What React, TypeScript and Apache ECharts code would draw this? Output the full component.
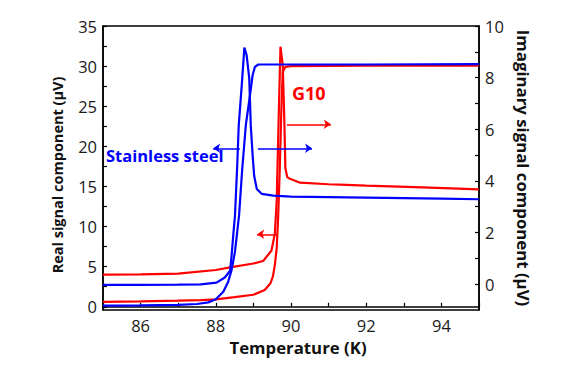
import React, { useEffect, useRef } from "react";
import * as echarts from "echarts";

// Temperature axis ticks / labels
const xTicks = [85, 86, 87, 88, 89, 90, 91, 92, 93, 94, 95];
const xLabels = [86, 88, 90, 92, 94];
const leftTicks = [0, 2.5, 5, 7.5, 10, 12.5, 15, 17.5, 20, 22.5, 25, 27.5, 30, 32.5, 35];
const leftLabels = [0, 5, 10, 15, 20, 25, 30, 35];
const rightTicks = [0, 1, 2, 3, 4, 5, 6, 7, 8, 9, 10];
const rightLabels = [0, 2, 4, 6, 8, 10];

// Stainless steel – real component (left axis)
const ssRealT = [85, 86, 87, 87.5, 87.8, 88.0, 88.2, 88.33, 88.42, 88.51, 88.57, 88.62, 88.7, 88.8, 88.91, 88.98, 89.04, 89.13, 89.5, 90, 92, 95];
const ssRealV = [0.15, 0.18, 0.25, 0.35, 0.55, 0.95, 1.88, 3.13, 4.59, 6.87, 9.36, 11.45, 17, 22.7, 26.4, 28.9, 29.9, 30.2, 30.2, 30.2, 30.2, 30.25];

// Stainless steel – imaginary component (right axis)
const ssImagT = [85, 86, 87, 87.6, 88.02, 88.24, 88.38, 88.42, 88.47, 88.51, 88.57, 88.61, 88.69, 88.76, 88.82, 88.89, 88.93, 88.98, 89.02, 89.09, 89.22, 89.53, 90, 92, 94, 95];
const ssImagV = [-0.03, -0.03, -0.02, -0.01, 0.06, 0.26, 0.52, 1.1, 2.0, 2.65, 4.6, 6.15, 7.7, 9.16, 8.87, 7.97, 6.15, 4.99, 4.2, 3.69, 3.5, 3.43, 3.39, 3.35, 3.31, 3.29];

// G10 – real component (left axis)
const g10RealT = [85, 86, 87, 87.6, 88, 88.5, 89, 89.3, 89.45, 89.52, 89.57, 89.62, 89.66, 89.7, 89.74, 89.78, 89.85, 90, 92, 95];
const g10RealV = [0.62, 0.68, 0.76, 0.83, 0.93, 1.2, 1.5, 2.1, 2.9, 3.8, 5.2, 7.3, 11.4, 17, 24, 29.3, 29.9, 30.0, 30.05, 30.05];

// G10 – imaginary component (right axis)
const g10ImagT = [85, 86, 87, 88, 88.38, 89, 89.26, 89.48, 89.57, 89.62, 89.67, 89.72, 89.78, 89.82, 89.85, 89.9, 89.97, 90.24, 91, 91.47, 92, 93.5, 95];
const g10ImagV = [0.37, 0.38, 0.41, 0.55, 0.65, 0.8, 0.9, 1.3, 1.95, 3.24, 6.3, 9.2, 8.5, 6.5, 4.5, 4.15, 4.08, 3.93, 3.87, 3.85, 3.82, 3.75, 3.67];

const BLUE = "#0000ff";
const RED = "#ff0000";
const FONT = "Open Sans";

const zip = (a: number[], b: number[]) => a.map((t, i) => [t, b[i]]);

export default function App() {
  const ref = useRef<HTMLDivElement>(null);
  useEffect(() => {
    if (!ref.current) return;
    const chart = echarts.init(ref.current, undefined, { renderer: "svg" });
    const axisCommon = {
      axisLine: { show: true, lineStyle: { color: "#000", width: 1.5 } },
      axisTick: { show: true, inside: true, length: 4, lineStyle: { color: "#000", width: 1.2 } },
      splitLine: { show: false },
    };
    const labelStyle = { color: "#1a1a1a", fontSize: 16.5, fontFamily: FONT };
    const nameStyle = { color: "#111", fontSize: 16.8, fontWeight: "bold" as const, fontFamily: FONT };
    chart.setOption({
      animation: false,
      backgroundColor: "#fff",
      grid: { left: 103, right: 91, top: 26, bottom: 65, show: true, borderColor: "#000", borderWidth: 1.5 },
      xAxis: {
        type: "value",
        min: 85,
        max: 95,
        ...axisCommon,
        axisTick: { ...axisCommon.axisTick, customValues: xTicks },
        axisLabel: { ...labelStyle, margin: 7, customValues: xLabels },
        name: "Temperature (K)",
        nameLocation: "middle",
        nameGap: 28,
        nameTextStyle: { ...nameStyle, padding: [0, 0, 0, 14] },
      },
      yAxis: [
        {
          type: "value",
          position: "left",
          min: -0.4,
          max: 35,
          ...axisCommon,
          axisTick: { ...axisCommon.axisTick, customValues: leftTicks },
          axisLabel: { ...labelStyle, margin: 6, customValues: leftLabels },
          name: "Real signal component (\u03bcV)",
          nameLocation: "middle",
          nameGap: 38,
          nameRotate: 90,
          nameTextStyle: { ...nameStyle, fontSize: 14.5, padding: [0, 14, 0, 0] },
        },
        {
          type: "value",
          position: "right",
          min: -1,
          max: 10,
          ...axisCommon,
          axisTick: { ...axisCommon.axisTick, customValues: rightTicks },
          axisLabel: { ...labelStyle, margin: 6, customValues: rightLabels },
          name: "Imaginary signal component (\u03bcV)",
          nameLocation: "middle",
          nameGap: 35,
          nameRotate: -90,
          nameTextStyle: nameStyle,
        },
      ],
      series: [
        {
          type: "line",
          name: "G10 real",
          yAxisIndex: 0,
          data: zip(g10RealT, g10RealV),
          showSymbol: false,
          lineStyle: { color: RED, width: 2.2 },
          itemStyle: { color: RED },
          markLine: {
            silent: true,
            symbol: ["none", "arrow"],
            symbolSize: [7, 7],
            label: { show: false },
            lineStyle: { color: RED, width: 1.5, type: "solid" },
            data: [
              [{ coord: [89.89, 22.75] }, { coord: [91.06, 22.75] }],
              [{ coord: [89.63, 9.04] }, { coord: [89.1, 9.04] }],
            ],
          },
        },
        {
          type: "line",
          name: "G10 imag",
          yAxisIndex: 1,
          data: zip(g10ImagT, g10ImagV),
          showSymbol: false,
          lineStyle: { color: RED, width: 2.2 },
          itemStyle: { color: RED },
        },
        {
          type: "line",
          name: "SS real",
          yAxisIndex: 0,
          data: zip(ssRealT, ssRealV),
          showSymbol: false,
          lineStyle: { color: BLUE, width: 2.2 },
          itemStyle: { color: BLUE },
          markLine: {
            silent: true,
            symbol: ["none", "arrow"],
            symbolSize: [7, 7],
            label: { show: false },
            lineStyle: { color: BLUE, width: 1.5, type: "solid" },
            data: [
              [{ coord: [88.64, 19.76] }, { coord: [87.93, 19.76] }],
              [{ coord: [89.12, 19.76] }, { coord: [90.56, 19.76] }],
            ],
          },
        },
        {
          type: "line",
          name: "SS imag",
          yAxisIndex: 1,
          data: zip(ssImagT, ssImagV),
          showSymbol: false,
          lineStyle: { color: BLUE, width: 2.2 },
          itemStyle: { color: BLUE },
        },
      ],
      graphic: [
        {
          type: "text",
          left: 106,
          top: 147,
          style: { text: "Stainless steel", fill: BLUE, font: `bold 16.5px "${FONT}"` },
        },
        {
          type: "text",
          left: 292,
          top: 84,
          style: { text: "G10", fill: RED, font: `bold 18px "${FONT}"` },
        },
      ],
    });
    return () => chart.dispose();
  }, []);
  return (
    <div
      ref={ref}
      style={{ position: "fixed", left: 0, top: 0, width: 570, height: 375, background: "#fff" }}
    />
  );
}
